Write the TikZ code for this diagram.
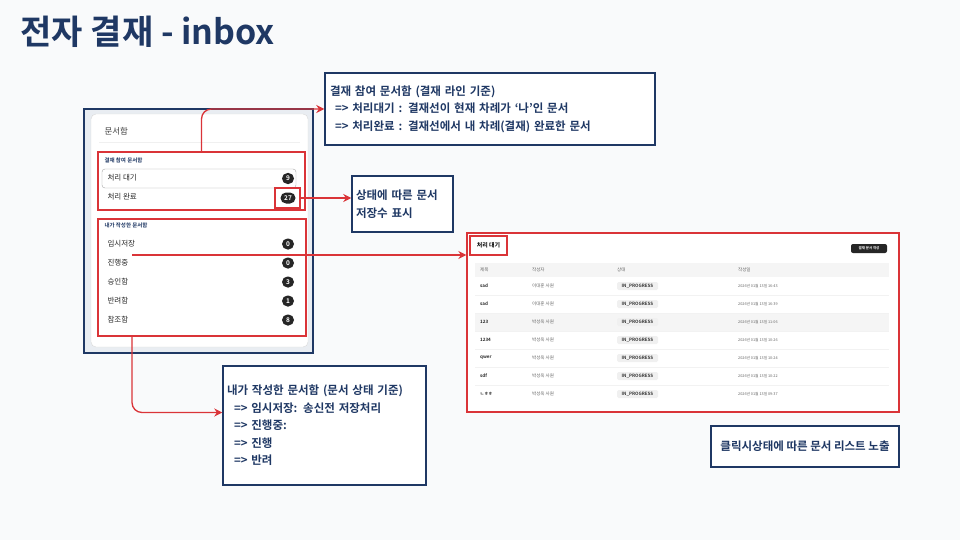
\documentclass[tikz,border=0pt]{standalone}
\usepackage{fontspec}
\setmainfont{Noto Sans CJK KR}[BoldFont={Noto Sans CJK KR Bold}]
\usepackage{tikz}
\usetikzlibrary{arrows,arrows.meta,positioning,calc}
\definecolor{navy}{RGB}{31,56,100}
\definecolor{redline}{RGB}{218,52,56}
\definecolor{bgcol}{RGB}{249,250,251}
\definecolor{panelbg}{RGB}{233,237,242}
\tikzset{
  >={Stealth[length=8pt,width=8pt]},
  conn/.style={->,draw=redline,line width=1.3pt,rounded corners=3.5mm},
  redbox/.style={draw=redline,line width=1.3pt,inner sep=0pt},
  callout/.style={draw=navy,line width=1.5pt,fill=white,inner xsep=5pt,align=left,
    text=navy,font=\fontsize{11.5}{17.5}\selectfont\bfseries},
  rowtxt/.style={anchor=west,font=\fontsize{7.5}{8}\selectfont,text=black!85},
  grouptxt/.style={anchor=west,font=\fontsize{5.5}{6}\selectfont\bfseries,text=navy},
  badge/.style={fill=black!85,text=white,rounded corners=5.5pt,minimum width=12pt,
    minimum height=11pt,inner sep=0pt,font=\fontsize{6.5}{7}\selectfont\bfseries},
  celltxt/.style={anchor=west,inner sep=0pt,font=\fontsize{4.5}{5}\selectfont,text=black!60},
  pill/.style={fill=gray!12,rounded corners=1.5pt,minimum width=41pt,minimum height=8pt,
    inner sep=0pt,font=\fontsize{4.5}{5}\selectfont\bfseries,text=black!80}
}
\begin{document}
\begin{tikzpicture}[x=1pt,y=-1pt]
  \fill[bgcol] (0,0) rectangle (960,540);
  \useasboundingbox (0,0) rectangle (960,540);

  \node[anchor=west,text=navy,font=\fontsize{34}{40}\selectfont\bfseries] (title) at (17,32) {전자 결재 - inbox};

  % inbox panel
  \draw[navy,line width=1.3pt,fill=panelbg] (84,109) rectangle (313,353);
  \draw[gray!30,fill=white,rounded corners=5pt] (91,114) rectangle (308,347);
  \node[anchor=west,font=\fontsize{8.5}{10}\selectfont,text=black!75] (boxttl) at (101,131) {문서함};
  \draw[gray!12,line width=0.8pt] (99,142) -- (300,142);

  \node[redbox,minimum width=207pt,minimum height=58pt] (sign) at (201.5,181) {};
  \node[grouptxt] (signttl) at (101,160) {결재 참여 문서함};
  \draw[gray!70,fill=white,rounded corners=3pt] (102,169) rectangle (296,188);
  \node[rowtxt] (wait) at (104,178) {처리 대기};
  \node[badge] (b9) at (288,178.5) {9};
  \node[rowtxt] (done) at (104,197) {처리 완료};
  \node[badge,minimum width=15pt] (b27) at (288,198) {27};
  \node[redbox,minimum width=25pt,minimum height=20pt] (hl) at (287.5,198) {};

  \node[redbox,minimum width=208pt,minimum height=117pt] (mine) at (202,277.5) {};
  \node[grouptxt] (minettl) at (101,225) {내가 작성한 문서함};
  \node[rowtxt] (temp) at (104,244) {임시저장};
  \node[badge] (b0a) at (288,244) {0};
  \node[rowtxt] (prog) at (104,263) {진행중};
  \node[badge] (b0b) at (288,263) {0};
  \node[rowtxt] (appr) at (104,282) {승인함};
  \node[badge] (b3) at (288,282) {3};
  \node[rowtxt] (rej) at (104,301) {반려함};
  \node[badge] (b1) at (288,301) {1};
  \node[rowtxt] (ref) at (104,320) {참조함};
  \node[badge] (b8) at (288,320) {8};

  % document list
  \node[redbox,fill=white,minimum width=432pt,minimum height=179pt] (list) at (683,322.5) {};
  \node[redbox,minimum width=37pt,minimum height=19pt,font=\fontsize{6}{7}\selectfont\bfseries] (tab) at (488.5,245.5) {처리 대기};
  \node[fill=black!85,text=white,rounded corners=2pt,minimum width=36pt,minimum height=9pt,inner sep=0pt,
    font=\fontsize{3.5}{4}\selectfont\bfseries] (newdoc) at (869,248.5) {결재 문서 작성};
  \fill[gray!8] (475,263) rectangle (889,277);
  \fill[gray!8] (475,313) rectangle (889,331);
  \foreach \y in {295,313,331,349,367,385}
    \draw[gray!10,line width=0.4pt] (475,\y) -- (889,\y);
  \node[celltxt] (h1) at (480,270) {제목};
  \node[celltxt] (h2) at (532,270) {작성자};
  \node[celltxt] (h3) at (617,270) {상태};
  \node[celltxt] (h4) at (738,270) {작성일};
  \foreach \t/\w/\d [count=\i] in {sad/이대훈/16:43,sad/이대훈/16:39,123/박성욱/11:06,1234/박성욱/10:26,
    qwer/박성욱/10:24,sdf/박성욱/10:22,ㄴㅎㅎ/박성욱/09:37}{
    \node[celltxt,text=black!85,font=\fontsize{4.5}{5}\selectfont\bfseries] (ttl\i) at (480,268+18*\i) {\t};
    \node[celltxt] (wr\i) at (532,268+18*\i) {\w{} 사원};
    \node[pill] (st\i) at (637.5,268+18*\i) {IN\_PROGRESS};
    \node[celltxt,font=\fontsize{3.8}{4}\selectfont] (dt\i) at (738,268+18*\i) {2026년 01월 13일 \d};
  }

  % callouts
  \node[callout,text width=320pt,minimum height=72pt] (call1) at (490,109)
    {결재 참여 문서함 (결재 라인 기준)\\\hspace*{5pt}=> 처리대기 : 결재선이 현재 차례가 ‘나’인 문서\\\hspace*{5pt}=> 처리완료 : 결재선에서 내 차례(결재) 완료한 문서};
  \node[callout,text width=93pt,minimum height=56pt,inner xsep=4pt] (call2) at (402.5,204)
    {상태에 따른 문서\\저장수 표시};
  \node[callout,text width=195pt,minimum height=119pt,inner xsep=4pt] (call3) at (324.5,425.5)
    {내가 작성한 문서함 (문서 상태 기준)\\\hspace*{7pt}=> 임시저장: 송신전 저장처리\\\hspace*{7pt}=> 진행중:\\\hspace*{7pt}=> 진행\\\hspace*{7pt}=> 반려};
  \node[callout,minimum width=188pt,minimum height=41pt] (call4) at (805,446.5) {클릭시상태에 따른 문서 리스트 노출};

  \coordinate (pick) at (132,255);
  \draw[conn] (sign.north) |- (call1.west);
  \draw[conn] (hl.east) -- (hl.east -| call2.west);
  \draw[conn] (pick) -- (pick -| list.west);
  \draw[conn] (mine.south -| pick) |- ($(call3.west)+(0,-13)$);
\end{tikzpicture}
\end{document}
